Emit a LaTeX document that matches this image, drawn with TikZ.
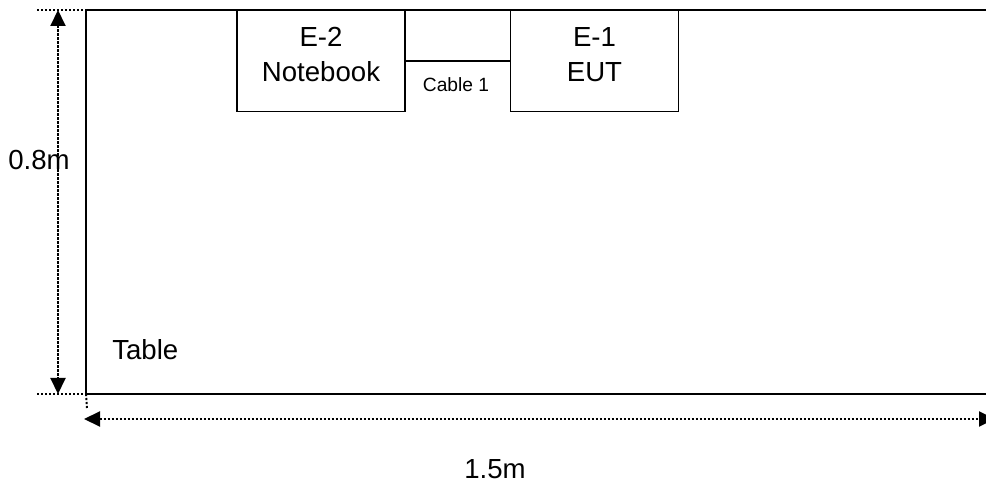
\documentclass[tikz,border=0pt]{standalone}
\usepackage{fontspec}
\setmainfont{Liberation Sans}
\usetikzlibrary{arrows.meta}
\begin{document}
\begin{tikzpicture}[x=0.75pt,y=-0.75pt,
  tableline/.style={line width=1.5pt*0.75*1.3},
  boxline/.style={draw,line width=1.1pt*0.75*1.3,minimum width=126pt,minimum height=75.75pt,inner sep=0pt},
  dimline/.style={line width=1.5pt,dash pattern=on 1.6pt off 1.4pt},
  dimarrow/.style={dimline,{Triangle[width=11.25pt,length=12pt]}-{Triangle[width=11.25pt,length=12pt]}},
  bigtext/.style={font=\fontsize{20.7}{25}\selectfont,inner sep=0pt},
  smalltext/.style={font=\fontsize{14.4}{17}\selectfont,inner sep=0pt}]
\useasboundingbox (0,0) rectangle (986,488);
% table
\coordinate (tl) at (86,10);
\coordinate (bl) at (86,394);
\coordinate (tr) at (990,10);
\coordinate (br) at (990,394);
\draw[tableline] (tr) -- (tl) -- (bl) -- (br);
% boxes
\node[boxline] (e2) at (321,61) {};
\node[boxline] (e1) at (594.5,61) {};
\draw[line width=1.1pt*0.75*1.3] (e2.east) -- (e1.west);
\node[bigtext,anchor=base] (e2a) at (321,47) {E-2};
\node[bigtext,anchor=base] (e2b) at (321,82) {Notebook};
\node[bigtext,anchor=base] (e1a) at (594.5,47) {E-1};
\node[bigtext,anchor=base] (e1b) at (594.5,82) {EUT};
\node[smalltext,anchor=base] (cab) at (456,92) {Cable 1};
% dimension ticks
\coordinate (t1) at (37,10);
\coordinate (b1) at (37,394);
\coordinate (b2) at (107,394);
\coordinate (v1) at (87,408);
\coordinate (vt) at (58,10);
\coordinate (vb) at (58,394);
\coordinate (hl) at (84,419);
\coordinate (hr) at (995,419);
\draw[dimline] (t1) -- (tl);
\draw[dimline] (b1) -- (b2);
\draw[dimline] (bl) -- (v1);
\draw[dimarrow] (vt) -- (vb);
\draw[dimarrow] (hl) -- (hr);
% labels
\node[bigtext,anchor=base west] (h08) at (8,170) {0.8m};
\node[bigtext,anchor=base west] (tab) at (112,360) {Table};
\node[bigtext,anchor=base west] (w15) at (464,478) {1.5m};
\end{tikzpicture}
\end{document}
